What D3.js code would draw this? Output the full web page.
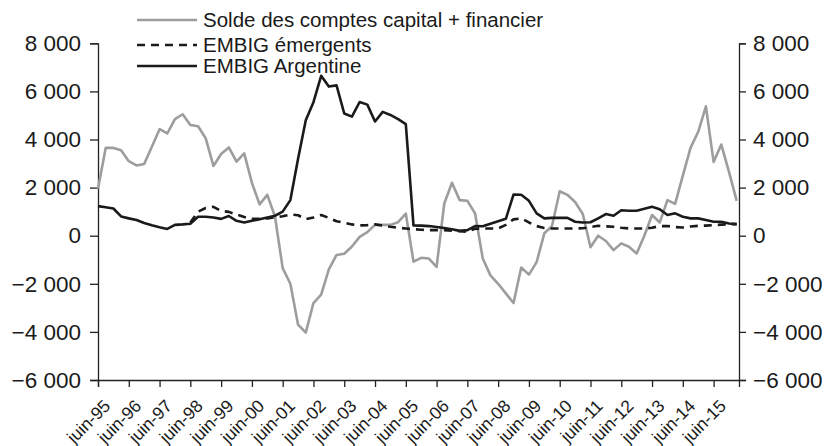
<!DOCTYPE html>
<html>
<head>
<meta charset="utf-8">
<script src="https://cdn.jsdelivr.net/npm/d3@7"></script>
<style>
  body { margin: 0; background: #fff; }
  text { font-family: "Liberation Sans", Arial, sans-serif; fill: #1a1a1a; }
</style>
</head>
<body>
<svg width="828" height="446"></svg>
<script>
// quarterly points, from juin-95 onwards
const years = ['95','96','97','98','99','00','01','02','03','04','05','06','07','08','09','10','11','12','13','14','15'];
const yTicks = [-6000, -4000, -2000, 0, 2000, 4000, 6000, 8000];

const solde = [1950, 3650, 3650, 3550, 3100, 2920, 2980, 3700, 4430, 4250, 4850, 5050,
  4600, 4550, 4050, 2900, 3400, 3670, 3080, 3420, 2200, 1300, 1700, 800,
  -1350, -2000, -3700, -4030, -2800, -2450, -1400, -800, -750, -450, -50, 150,
  450, 450, 450, 560, 920, -1080, -920, -950, -1300, 1340, 2200, 1480,
  1450, 930, -950, -1650, -2000, -2400, -2800, -1320, -1620, -1100, 100, 400,
  1850, 1700, 1400, 900, -480, 0, -220, -600, -320, -460, -740, 0,
  860, 550, 1480, 1320, 2500, 3650, 4320, 5380, 3070, 3790, 2650, 1450];

const argentine = [1230, 1180, 1130, 800, 720, 650, 530, 430, 350, 280, 450, 470,
  500, 790, 790, 760, 700, 820, 620, 550, 620, 680, 760, 830,
  1000, 1480, 3200, 4800, 5550, 6650, 6200, 6250, 5080, 4950, 5560, 5450,
  4750, 5150, 5020, 4850, 4640, 430, 420, 400, 360, 320, 270, 200,
  230, 400, 390, 500, 600, 700, 1710, 1700, 1450, 930, 720, 740,
  740, 740, 580, 550, 560, 720, 900, 830, 1060, 1040, 1040, 1120,
  1200, 1100, 860, 930, 790, 720, 720, 650, 580, 580, 510, 480];

const emergents = [null, null, null, null, null, null, null, null, null, null, null, null,
  550, 1000, 1150, 1200, 1030, 990, 880, 780, 700, 700, 720, 770,
  810, 880, 850, 690, 760, 860, 740, 600, 540, 470, 430, 440,
  470, 420, 370, 330, 300, 270, 250, 230, 230, 230, 210, 190,
  160, 290, 300, 300, 300, 450, 680, 720, 550, 400, 320, 300,
  300, 300, 300, 310, 360, 410, 390, 370, 330, 300, 300, 300,
  330, 400, 400, 360, 340, 380, 410, 420, 440, 460, 480, 480];

const series = [
  { name: 'Solde des comptes capital + financier', values: solde, color: '#9d9d9d', dash: null },
  { name: 'EMBIG émergents', values: emergents, color: '#1a1a1a', dash: '8,6' },
  { name: 'EMBIG Argentine', values: argentine, color: '#1a1a1a', dash: null }
];

const svg = d3.select('svg');
const plotLeft = 98, plotRight = 739, plotTop = 43.3, plotBottom = 380;

const x = d3.scaleLinear().domain([0, 83.3]).range([plotLeft, plotRight]);
const y = d3.scaleLinear().domain([-6000, 8000]).range([plotBottom, plotTop]);

const fmt = v => (v < 0 ? '\u2212' : '') + d3.format(',')(Math.abs(v)).replace(',', ' ');

// axes
let yLeft = svg.append('g').attr('transform', `translate(${plotLeft},0)`)
  .call(d3.axisLeft(y).tickValues(yTicks).tickSize(8).tickPadding(9).tickFormat(fmt));
let yRight = svg.append('g').attr('transform', `translate(${plotRight},0)`)
  .call(d3.axisRight(y).tickValues(yTicks).tickSize(7).tickPadding(7).tickFormat(fmt));
let xAxis = svg.append('g').attr('transform', `translate(0,${plotBottom})`)
  .call(d3.axisBottom(x).tickValues(years.map((d, i) => i * 4)).tickSize(7)
    .tickFormat((d, i) => 'juin-' + years[i]));

[yLeft, yRight, xAxis].forEach(g => {
  g.select('.domain').attr('stroke', '#222').attr('stroke-width', 1.3);
  g.selectAll('.tick line').attr('stroke', '#222').attr('stroke-width', 1.3);
});
yLeft.selectAll('text').attr('font-size', 22.5).attr('fill', '#1a1a1a');
yRight.selectAll('text').attr('font-size', 22.5).attr('fill', '#1a1a1a');
xAxis.selectAll('text')
  .attr('font-size', 17.5).attr('fill', '#1a1a1a')
  .attr('text-anchor', 'end')
  .attr('dy', 0)
  .attr('y', 0).attr('x', 0)
  .attr('transform', 'translate(13,27) rotate(-45)');

// lines
let line = d3.line()
  .defined(d => d != null)
  .x((d, i) => x(i))
  .y(d => y(d));

svg.append('g').selectAll('path')
  .data(series)
  .enter()
  .append('path')
  .attr('d', d => line(d.values))
  .attr('fill', 'none')
  .attr('stroke', d => d.color)
  .attr('stroke-width', 2.6)
  .attr('stroke-linejoin', 'round')
  .attr('stroke-dasharray', d => d.dash);

// legend
let legend = svg.append('g').attr('transform', 'translate(137,20)');
let rows = legend.selectAll('g')
  .data(series)
  .enter()
  .append('g')
  .attr('transform', (d, i) => `translate(0, ${[0, 25, 46][i]})`);
rows.append('line')
  .attr('x1', 0).attr('x2', 60)
  .attr('stroke', d => d.color)
  .attr('stroke-width', 2.6)
  .attr('stroke-dasharray', d => d.dash);
rows.append('text')
  .attr('x', 66).attr('dy', '0.36em')
  .attr('font-size', 20.5)
  .text(d => d.name);
</script>
</body>
</html>
